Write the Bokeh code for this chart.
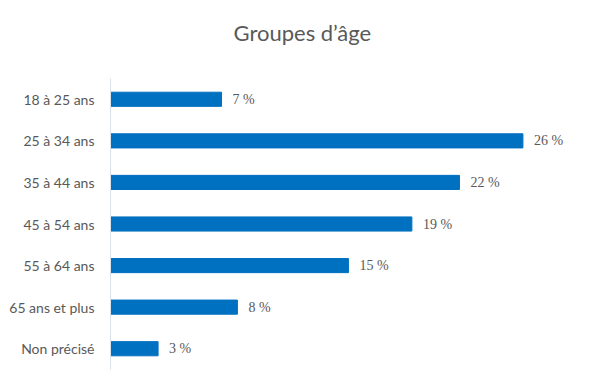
from bokeh.plotting import figure
from bokeh.models import ColumnDataSource, LabelSet, Range1d, FactorRange
from bokeh.embed import file_html
from bokeh.resources import INLINE

categories = ["18 à 25 ans", "25 à 34 ans", "35 à 44 ans", "45 à 54 ans",
              "55 à 64 ans", "65 ans et plus", "Non précisé"]
values = [7, 26, 22, 19, 15, 8, 3]
value_labels = [f"{v} %" for v in values]
title_text = "Groupes d’âge"

FONT = "Lato"
GRAY = "#595959"

src = ColumnDataSource(dict(cat=categories, val=values, lab=value_labels))

p = figure(width=589, height=379, output_backend="svg", toolbar_location=None,
           y_range=FactorRange(*list(reversed(categories))),
           x_range=Range1d(0, 29),
           min_border_left=110, min_border_right=19,
           min_border_top=78, min_border_bottom=10)

p.hbar(y="cat", right="val", left=0, height=0.34, source=src,
       color="#0070C0", line_color="#0070C0")

labels = LabelSet(x="val", y="cat", text="lab", source=src, x_offset=11,
                  text_baseline="middle", text_font=FONT,
                  text_font_size="14px", text_color=GRAY)
p.add_layout(labels)

p.title.text = title_text + "\n"
p.title.align = "left"
p.title.offset = 123
p.title.vertical_align = "top"
p.title.text_font = FONT
p.title.text_font_size = "22px"
p.title.text_font_style = "normal"
p.title.text_color = GRAY
p.title.standoff = 8

p.xaxis.visible = False
p.xgrid.visible = False
p.ygrid.visible = False
p.outline_line_color = None

ya = p.yaxis[0]
ya.axis_line_color = "#D9E2EC"
ya.major_tick_line_color = None
ya.minor_tick_line_color = None
ya.major_label_text_font = FONT
ya.major_label_text_font_size = "14px"
ya.major_label_text_color = GRAY
ya.major_label_standoff = 10

p.y_range.range_padding = 0

open("out.html", "w").write(file_html(p, INLINE))
